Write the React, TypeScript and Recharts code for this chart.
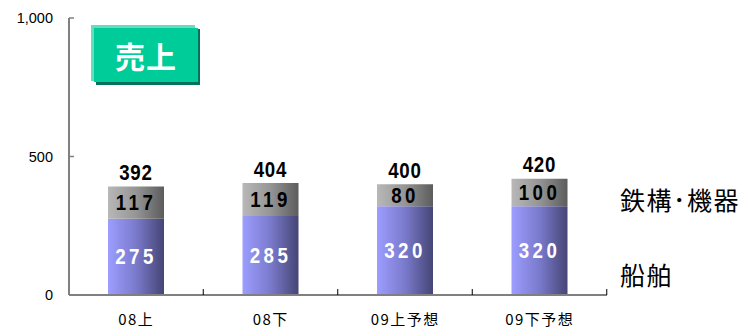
import React from 'react';
import { BarChart, Bar, XAxis, YAxis, LabelList } from 'recharts';

const categories = ['08上', '08下', '09上予想', '09下予想'];
const shipValues = [275, 285, 320, 320];
const steelValues = [117, 119, 80, 100];
const yTicks = [0, 500, 1000];

const data = categories.map((name, i) => ({
  name,
  ship: shipValues[i],
  steel: steelValues[i],
  total: shipValues[i] + steelValues[i],
}));

const jp = '"Noto Sans CJK JP", sans-serif';
const sans = '"Liberation Sans", Arial, sans-serif';

const YTick = (props: any) => {
  const { x, y, payload } = props;
  return (
    <g>
      <line x1={x} x2={x + 5} y1={y} y2={y} stroke="#808080" strokeWidth={1.5} />
      <text x={x - 16} y={y} textAnchor="end" dominantBaseline="central" fontSize={14.5} fill="#000" fontFamily={sans}>
        {Number(payload.value).toLocaleString('en-US')}
      </text>
    </g>
  );
};

const XTick = (props: any) => {
  const { x, y, payload } = props;
  return (
    <g>
      <line x1={x + 67} x2={x + 67} y1={y} y2={y - 6} stroke="#000" strokeWidth={1} />
      <text x={x} y={y + 23} textAnchor="middle" dominantBaseline="central" fontSize={15} fill="#000" fontFamily={jp} letterSpacing={1.5}>
        {payload.value}
      </text>
    </g>
  );
};

// condensed bold digits, like the original's gothic font
const makeLabel = (color: string, spacing: number, where: 'center' | 'top') => (props: any) => {
  const { x, y, width, height, value } = props;
  const cx = x + width / 2;
  const cy = where === 'center' ? y + height / 2 : y - 14;
  return (
    <text
      transform={`translate(${cx},${cy}) scale(0.85,1)`}
      textAnchor="middle"
      dominantBaseline="central"
      fill={color}
      fontSize={22}
      fontWeight="bold"
      fontFamily={sans}
      letterSpacing={spacing}
    >
      {value}
    </text>
  );
};

const ShipLabel = makeLabel('#fff', 4, 'center');
const SteelLabel = makeLabel('#000', 4, 'center');
const TotalLabel = makeLabel('#000', 1, 'top');

export default function App() {
  return (
    <div style={{ position: 'absolute', left: 0, top: 0, width: 743, height: 328, background: '#fff' }}>
      <BarChart width={743} height={328} data={data} margin={{ top: 18, right: 136, left: 0, bottom: 8 }}>
        <defs>
          <linearGradient id="gradShip" x1="0" y1="0" x2="1" y2="0">
            <stop offset="0%" stopColor="#9d9dff" />
            <stop offset="50%" stopColor="#7a7acc" />
            <stop offset="100%" stopColor="#454575" />
          </linearGradient>
          <linearGradient id="gradSteel" x1="0" y1="0" x2="1" y2="0">
            <stop offset="0%" stopColor="#b8b8b8" />
            <stop offset="50%" stopColor="#959595" />
            <stop offset="100%" stopColor="#5c5c5c" />
          </linearGradient>
        </defs>
        <XAxis
          dataKey="name"
          height={25}
          axisLine={{ stroke: '#808080', strokeWidth: 2 }}
          tickLine={false}
          tickSize={0}
          tickMargin={0}
          tick={<XTick />}
          interval={0}
        />
        <YAxis
          width={69}
          domain={[0, 1000]}
          ticks={yTicks}
          axisLine={{ stroke: '#808080', strokeWidth: 2 }}
          tickLine={false}
          tickSize={0}
          tickMargin={0}
          tick={<YTick />}
          interval={0}
        />
        <Bar dataKey="ship" stackId="a" fill="url(#gradShip)" barSize={56} isAnimationActive={false}>
          <LabelList dataKey="ship" content={<ShipLabel />} />
        </Bar>
        <Bar dataKey="steel" stackId="a" fill="url(#gradSteel)" barSize={56} isAnimationActive={false}>
          <LabelList dataKey="steel" content={<SteelLabel />} />
          <LabelList dataKey="total" content={<TotalLabel />} />
        </Bar>
      </BarChart>
      <div style={{ position: 'absolute', left: 96, top: 29, width: 104, height: 56, background: '#00735a' }} />
      <div style={{ position: 'absolute', left: 91, top: 25, width: 104, height: 56, background: '#66dcc0' }} />
      <div
        style={{
          position: 'absolute', left: 94, top: 28, width: 104, height: 54, background: '#00cc99',
          color: '#fff', fontFamily: jp, fontSize: 30, fontWeight: 'bold',
          display: 'flex', alignItems: 'center', justifyContent: 'center', letterSpacing: 1,
        }}
      >
        売上
      </div>
      <div style={{ position: 'absolute', left: 620, top: 181, fontFamily: jp, fontSize: 25, letterSpacing: 1.5, color: '#000', whiteSpace: 'nowrap' }}>
        鉄構･機器
      </div>
      <div style={{ position: 'absolute', left: 620, top: 256, fontFamily: jp, fontSize: 25, letterSpacing: 1.5, color: '#000', whiteSpace: 'nowrap' }}>
        船舶
      </div>
    </div>
  );
}
